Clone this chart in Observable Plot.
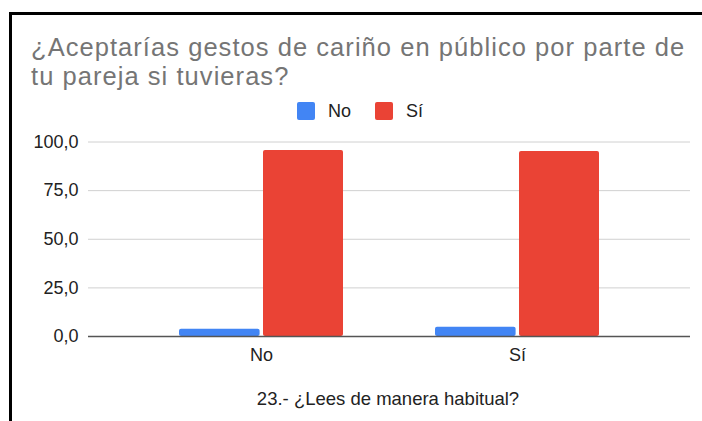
<!DOCTYPE html>
<html>
<head>
<meta charset="utf-8">
<script src="https://cdn.jsdelivr.net/npm/d3@7"></script>
<script src="https://cdn.jsdelivr.net/npm/@observablehq/plot@0.6"></script>
<style>
  html, body { margin: 0; padding: 0; background: #fff; width: 702px; height: 421px; overflow: hidden; }
  body { font-family: "Liberation Sans", Arial, sans-serif; position: relative; }
  #frame { position: absolute; left: 9px; top: 12px; width: 693px; height: 409px; border-top: 3px solid #000; border-left: 3px solid #000; box-sizing: border-box; }
  #title { position: absolute; left: 31px; top: 33px; font-size: 25.5px; line-height: 28.6px; letter-spacing: 1.05px; color: #757575; white-space: nowrap; }
  #legend { position: absolute; top: 101.5px; left: 297px; font-size: 18px; line-height: 18px; color: #222; display: flex; align-items: center; }
  .sw { width: 18px; height: 18px; border-radius: 2px; display: inline-block; }
  .lab { margin-left: 13px; margin-right: 24px; }
  #chart { position: absolute; left: 0; top: 125px; }
  #xtitle { position: absolute; left: 132px; width: 512px; top: 388.6px; text-align: center; font-size: 18.5px; line-height: 20px; color: #222; }
</style>
</head>
<body>
<div id="frame"></div>
<div id="title">¿Aceptarías gestos de cariño en público por parte de<br>tu pareja si tuvieras?</div>
<div id="legend"></div>
<div id="chart"></div>
<div id="xtitle"></div>
<script>
const groups = ["No", "Sí"];
const seriesNames = ["No", "Sí"];
const seriesColors = ["#4285F4", "#EA4335"];
const noValues = [3.7, 4.7];
const siValues = [95.6, 95.1];
const yTicks = [0, 25, 50, 75, 100];
const xTitle = "23.- ¿Lees de manera habitual?";

const legend = document.getElementById("legend");
seriesNames.forEach((s, i) => {
  const sw = document.createElement("span");
  sw.className = "sw";
  sw.style.background = seriesColors[i];
  const lab = document.createElement("span");
  lab.className = "lab";
  lab.textContent = s;
  legend.appendChild(sw);
  legend.appendChild(lab);
});
document.getElementById("xtitle").textContent = xTitle;

const noData = groups.map((g, i) => ({group: g, value: noValues[i]}));
const siData = groups.map((g, i) => ({group: g, value: siValues[i]}));

const fmt = v => v.toFixed(1).replace(".", ",");

const chart = Plot.plot({
  width: 702,
  height: 251,
  marginLeft: 88,
  marginRight: 12,
  marginTop: 16.5,
  marginBottom: 40,
  style: { fontFamily: "Liberation Sans, Arial, sans-serif", fontSize: "18px", color: "#333", background: "transparent" },
  x: { type: "band", domain: groups, paddingInner: 0.36, paddingOuter: 0.352, label: null, tickSize: 0, tickPadding: 12 },
  y: { domain: [0, 100], ticks: yTicks, tickFormat: fmt, label: null, tickSize: 0, tickPadding: 10 },
  marks: [
    Plot.ruleY(yTicks.filter(t => t > 0), { stroke: "#d0d0d0", strokeWidth: 1 }),
    Plot.barY(noData, { x: "group", y: "value", fill: seriesColors[0], insetRight: 83.4, rx: 2 }),
    Plot.barY(siData, { x: "group", y: "value", fill: seriesColors[1], insetLeft: 84, rx: 2 }),
    Plot.ruleY([0], { stroke: "#555", strokeWidth: 1.5 })
  ]
});
chart.querySelectorAll("text").forEach(t => t.setAttribute("fill", "#222"));
document.getElementById("chart").appendChild(chart);
</script>
</body>
</html>
